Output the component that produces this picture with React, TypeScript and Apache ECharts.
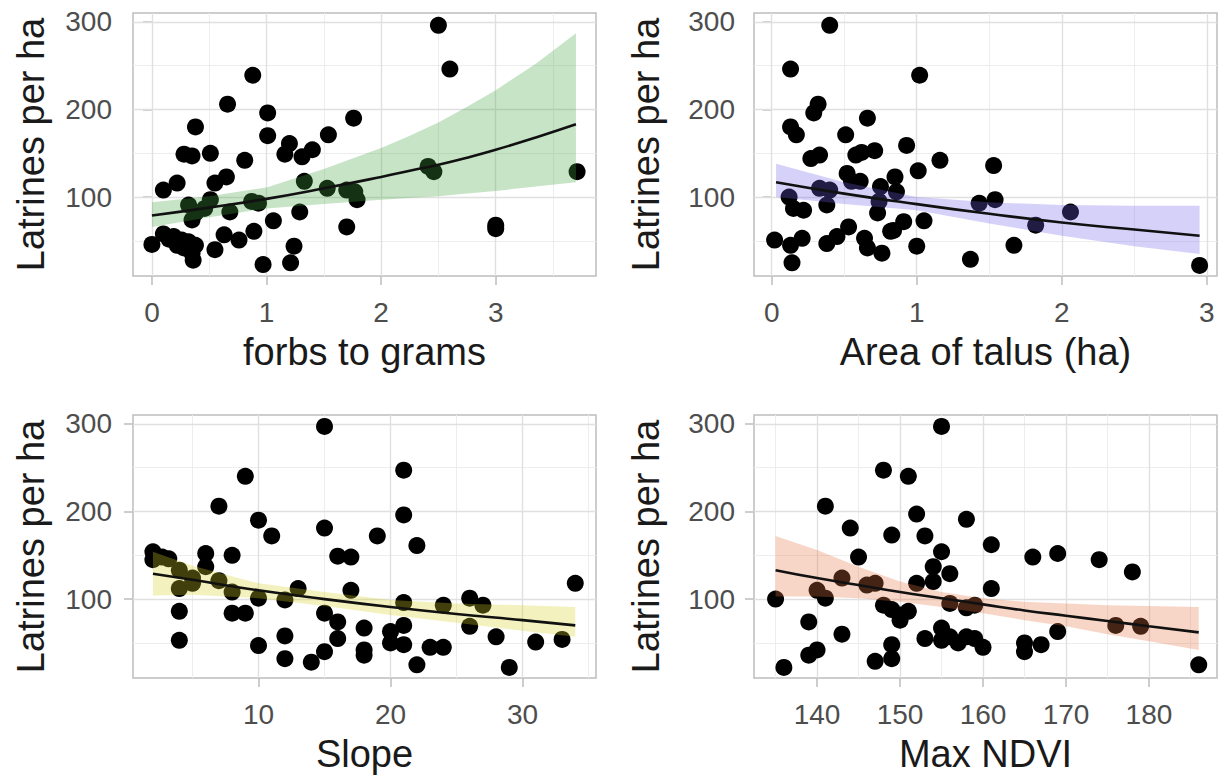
import React, { useEffect, useRef } from "react";
import * as echarts from "echarts";

const FONT = "'Liberation Sans', Arial, Helvetica, sans-serif";

// Shared y axis
const yTitle = "Latrines per ha";
const yMajor = [100, 200, 300];
const yMinor = [50, 150, 250];

// Panel 1: forbs to grams
const forbsX = [2.5, 2.6, 0.88, 0.66, 1.01, 0.38, 1.01, 1.76, 1.54, 1.2, 1.16, 1.4, 1.31, 0.28, 0.35, 0.51, 0.81, 0.1, 0.22, 0.55, 0.65, 0.51, 0.32, 0.38, 0.46, 0.35, 0.68, 0.87, 0.93, 1.33, 1.53, 1.7, 1.77, 1.79, 2.41, 2.46, 3.71, 3.0, 3.0, 1.29, 1.06, 1.7, 0.89, 0.76, 0.63, 0.55, 1.24, 0.97, 1.21, 0.0, 0.1, 0.19, 0.26, 0.32, 0.38, 0.28, 0.35, 0.36, 0.22, 0.15];
const forbsY = [296, 246, 239, 206, 196, 180, 170, 190, 171, 161, 149, 154, 146, 149, 147, 150, 142, 108, 116, 116, 123, 97, 91, 82, 87, 74, 83, 95, 93, 118, 110, 108, 106, 97, 135, 129, 129, 68, 64, 83, 73, 66, 61, 51, 57, 40, 44, 23, 25, 46, 58, 55, 51, 49, 45, 42, 36, 28, 45, 52];
const forbsCurveX = [0, 0.5, 1, 1.5, 2, 2.25, 2.5, 2.75, 3, 3.35, 3.7];
const forbsFit = [79, 88, 98, 110, 123, 130, 137, 145, 154, 168, 183];
const forbsLo = [66, 77, 87, 92, 97, 99, 101, 104, 107, 112, 117];
const forbsHi = [94, 101, 111, 132, 156, 170, 185, 203, 222, 252, 287];
const forbsMajor = [0, 1, 2, 3];
const forbsMinor = [0.5, 1.5, 2.5, 3.5];

// Panel 2: area of talus
const talusX = [0.4, 0.13, 1.02, 0.32, 0.29, 0.66, 0.13, 0.17, 0.51, 0.93, 0.71, 0.58, 0.62, 0.27, 0.33, 1.16, 1.53, 1.01, 0.52, 0.55, 0.61, 0.85, 0.75, 0.86, 0.33, 0.4, 0.12, 0.15, 0.22, 0.38, 0.74, 0.73, 1.43, 1.54, 2.06, 1.82, 1.05, 0.91, 0.82, 0.84, 0.53, 0.45, 0.38, 0.64, 0.66, 0.76, 0.02, 0.13, 0.21, 0.14, 1.0, 1.37, 1.67, 2.95];
const talusY = [296, 246, 239, 206, 196, 190, 180, 171, 171, 159, 153, 148, 151, 144, 148, 142, 136, 130, 127, 118, 118, 123, 112, 106, 110, 108, 100, 87, 85, 91, 95, 82, 93, 97, 83, 68, 73, 72, 61, 62, 66, 55, 47, 53, 42, 36, 51, 45, 53, 25, 44, 29, 45, 22];
const talusCurveX = [0.03, 0.5, 1, 1.5, 2, 2.5, 2.95];
const talusFit = [117, 104, 92, 81, 71, 63, 56];
const talusLo = [100, 92, 85, 70, 56, 44, 35];
const talusHi = [138, 117, 100, 94, 91, 90, 90];
const talusMajor = [0, 1, 2, 3];
const talusMinor = [0.5, 1.5, 2.5];

// Panel 3: slope
const slopeX = [15, 21, 9, 7, 21, 10, 11, 15, 19, 22, 16, 17, 2, 2, 2.7, 3.2, 6, 8, 4, 5, 4, 5, 6, 7, 8, 10, 12, 13, 17, 21, 24, 26, 27, 26, 34, 4, 4, 8, 9, 15, 16, 16, 18, 21, 20, 20, 21, 10, 12, 12, 14, 15, 18, 18, 22, 23, 24, 28, 29, 31, 33];
const slopeY = [297, 247, 240, 206, 196, 190, 172, 181, 172, 161, 149, 148, 154, 145, 148, 146, 152, 150, 133, 124, 112, 118, 137, 121, 108, 101, 99, 112, 110, 96, 93, 101, 93, 69, 118, 86, 53, 84, 84, 84, 74, 55, 67, 70, 63, 50, 48, 47, 58, 32, 28, 40, 42, 36, 25, 45, 45, 57, 22, 51, 54];
const slopeCurveX = [2, 5, 10, 15, 20, 25, 30, 34];
const slopeFit = [129, 122, 110, 100, 91, 83, 76, 70];
const slopeLo = [104, 105, 101, 92, 82, 73, 64, 57];
const slopeHi = [154, 138, 118, 108, 99, 95, 93, 91];
const slopeMajor = [10, 20, 30];
const slopeMinor = [5, 15, 25, 35];

// Panel 4: max NDVI
const ndviX = [155, 148, 151, 141, 152, 158, 144, 149, 153, 161, 145, 155, 166, 169, 174, 178, 154, 156, 154, 152, 161, 143, 140, 141, 146, 147, 135, 148, 149, 150, 151, 150, 156, 158, 159, 139, 143, 169, 176, 179, 155, 155, 156, 157, 153, 158, 159, 160, 165, 165, 167, 139, 140, 136, 147, 149, 149, 186];
const ndviY = [297, 247, 240, 206, 197, 191, 181, 173, 172, 162, 148, 154, 148, 152, 145, 131, 137, 129, 120, 118, 112, 124, 110, 101, 116, 118, 100, 93, 88, 82, 86, 76, 95, 90, 93, 74, 60, 63, 70, 69, 67, 53, 57, 50, 55, 57, 55, 45, 50, 40, 48, 36, 42, 22, 29, 32, 48, 25];
const ndviCurveX = [135, 140, 145, 150, 155, 160, 165, 170, 175, 180, 186];
const ndviFit = [133, 124, 116, 108, 101, 94, 87, 81, 75, 69, 62];
const ndviLo = [103, 103, 101, 97, 91, 84, 76, 69, 60, 52, 42];
const ndviHi = [172, 156, 137, 120, 108, 101, 97, 95, 93, 92, 91];
const ndviMajor = [140, 150, 160, 170, 180];
const ndviMinor = [135, 145, 155, 165, 175, 185];

type Panel = {
  title: string;
  xs: number[];
  ys: number[];
  cx: number[];
  fit: number[];
  lo: number[];
  hi: number[];
  major: number[];
  minor: number[];
  xMin: number;
  xMax: number;
  band: string;
  left: number;
  top: number;
  yGap: number;
  yLabelMargin: number;
};

const panels: Panel[] = [
  { title: "forbs to grams", xs: forbsX, ys: forbsY, cx: forbsCurveX, fit: forbsFit, lo: forbsLo, hi: forbsHi, major: forbsMajor, minor: forbsMinor, xMin: -0.165, xMax: 3.875, band: "rgba(70,165,70,0.3)", left: 133, top: 13, yGap: 83, yLabelMargin: 21 },
  { title: "Area of talus (ha)", xs: talusX, ys: talusY, cx: talusCurveX, fit: talusFit, lo: talusLo, hi: talusHi, major: talusMajor, minor: talusMinor, xMin: -0.122, xMax: 3.07, band: "rgba(115,95,230,0.29)", left: 754, top: 13, yGap: 89, yLabelMargin: 19 },
  { title: "Slope", xs: slopeX, ys: slopeY, cx: slopeCurveX, fit: slopeFit, lo: slopeLo, hi: slopeHi, major: slopeMajor, minor: slopeMinor, xMin: 0.49, xMax: 35.57, band: "rgba(215,210,35,0.3)", left: 133, top: 415, yGap: 83, yLabelMargin: 21 },
  { title: "Max NDVI", xs: ndviX, ys: ndviY, cx: ndviCurveX, fit: ndviFit, lo: ndviLo, hi: ndviHi, major: ndviMajor, minor: ndviMinor, xMin: 132.4, xMax: 188.2, band: "rgba(232,120,70,0.3)", left: 754, top: 415, yGap: 89, yLabelMargin: 19 },
];

const Y_MIN = 10;
const Y_MAX = 310;
const PANEL_W = 463;
const PANEL_H = 263;

const BORDER = "#BDBDBD";
const MAJOR = { color: "#E0E0E0", width: 1.4, type: "solid" as const };
const MINOR = { color: "#EDEDED", width: 1, type: "solid" as const };

function buildOption(): echarts.EChartsOption {
  const grid: any[] = [];
  const xAxis: any[] = [];
  const yAxis: any[] = [];
  const series: any[] = [];

  panels.forEach((p, i) => {
    grid.push({
      left: p.left,
      top: p.top,
      width: PANEL_W,
      height: PANEL_H,
      show: true,
      borderColor: BORDER,
      borderWidth: 1.5,
      backgroundColor: "#FFFFFF",
      containLabel: false,
    });
    xAxis.push({
      type: "value",
      gridIndex: i,
      min: p.xMin,
      max: p.xMax,
      name: p.title,
      nameLocation: "middle",
      nameGap: 57,
      nameTextStyle: { fontSize: 38, color: "#1A1A1A", fontFamily: FONT },
      axisLine: { show: false },
      axisTick: { show: true, inside: false, length: 9, lineStyle: { color: BORDER, width: 1.5 }, customValues: p.major },
      axisLabel: { customValues: p.major, fontSize: 28, color: "#4D4D4D", fontFamily: FONT, margin: 22 },
      splitLine: { show: false },
    });
    yAxis.push({
      type: "value",
      gridIndex: i,
      min: Y_MIN,
      max: Y_MAX,
      name: yTitle,
      nameLocation: "middle",
      nameGap: p.yGap,
      nameTextStyle: { fontSize: 38, color: "#1A1A1A", fontFamily: FONT },
      axisLine: { show: false },
      axisTick: { show: true, inside: false, length: 9, lineStyle: { color: BORDER, width: 1.5 }, customValues: yMajor },
      axisLabel: { customValues: yMajor, fontSize: 28, color: "#4D4D4D", fontFamily: FONT, margin: p.yLabelMargin },
      splitLine: { show: false },
    });

    const gridLines = [
      ...p.minor.map((v) => ({ xAxis: v, lineStyle: MINOR })),
      ...yMinor.map((v) => ({ yAxis: v, lineStyle: MINOR })),
      ...p.major.map((v) => ({ xAxis: v, lineStyle: MAJOR })),
      ...yMajor.map((v) => ({ yAxis: v, lineStyle: MAJOR })),
    ];

    // observed points, with the panel's grid lines underneath
    series.push({
      type: "scatter",
      xAxisIndex: i,
      yAxisIndex: i,
      z: 2,
      symbol: "circle",
      symbolSize: 17,
      itemStyle: { color: "#000000", opacity: 1 },
      emphasis: { disabled: true },
      silent: true,
      data: p.xs.map((x, k) => [x, p.ys[k]]),
      markLine: {
        silent: true,
        z: 1,
        symbol: ["none", "none"],
        label: { show: false },
        emphasis: { disabled: true },
        animation: false,
        data: gridLines,
      },
    });

    // confidence band drawn over the points
    const cx = p.cx;
    const lo = p.lo;
    const hi = p.hi;
    const fill = p.band;
    series.push({
      type: "custom",
      xAxisIndex: i,
      yAxisIndex: i,
      z: 3,
      silent: true,
      data: [0],
      renderItem: (_params: any, api: any) => {
        const upper = cx.map((x, k) => api.coord([x, hi[k]]));
        const lower = cx.map((x, k) => api.coord([x, lo[k]])).reverse();
        return {
          type: "polygon",
          shape: { points: upper.concat(lower) },
          style: { fill },
        };
      },
    });

    // fitted curve
    series.push({
      type: "line",
      xAxisIndex: i,
      yAxisIndex: i,
      z: 4,
      silent: true,
      smooth: true,
      symbol: "none",
      lineStyle: { color: "#111111", width: 2.6 },
      emphasis: { disabled: true },
      data: cx.map((x, k) => [x, p.fit[k]]),
    });
  });

  return {
    animation: false,
    backgroundColor: "#FFFFFF",
    textStyle: { fontFamily: FONT },
    grid,
    xAxis,
    yAxis,
    series,
  };
}

export default function App() {
  const ref = useRef<HTMLDivElement>(null);
  useEffect(() => {
    if (!ref.current) return;
    const chart = echarts.init(ref.current, undefined, { renderer: "svg" });
    chart.setOption(buildOption());
    return () => chart.dispose();
  }, []);
  return (
    <div
      ref={ref}
      style={{ position: "absolute", left: 0, top: 0, width: 1218, height: 780, background: "#FFFFFF" }}
    />
  );
}
